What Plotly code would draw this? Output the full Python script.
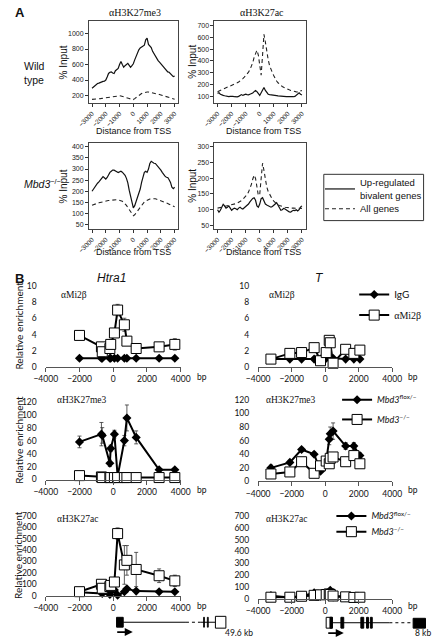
import plotly.graph_objects as go

W, H = 445, 643


def fx(x):
    return x / W


def fy(y):
    return 1 - y / H


SANS = "Liberation Sans"
SERIF = "Liberation Serif"
XL = "Lato"

# ---------------- Panel A: average profiles around the TSS ----------------
tss_bp = [-3000, -2900, -2800, -2700, -2600, -2500, -2400, -2300, -2200, -2100,
          -2000, -1900, -1800, -1700, -1600, -1500, -1400, -1300, -1200, -1100,
          -1000, -900, -800, -700, -600, -500, -400, -300, -200, -100,
          0, 100, 200, 300, 400, 500, 600, 700, 800, 900,
          1000, 1100, 1200, 1300, 1400, 1500, 1600, 1700, 1800, 1900,
          2000, 2100, 2200, 2300, 2400, 2500, 2600, 2700, 2800, 2900, 3000]

wt_me3_bivalent = [295, 310, 330, 345, 355, 360, 370, 378, 382, 385,
                   400, 440, 485, 500, 505, 490, 485, 520, 535, 550,
                   600, 640, 600, 565, 585, 600, 615, 590, 565, 585,
                   610, 660, 700, 760, 790, 815, 825, 830, 850, 920,
                   940, 860, 835, 820, 770, 735, 700, 675, 650, 630,
                   610, 590, 560, 545, 520, 505, 500, 480, 460, 445, 450]
wt_me3_all = [150, 150, 152, 154, 156, 158, 160, 163, 166, 168,
              172, 175, 178, 181, 184, 187, 190, 192, 194, 196,
              197, 194, 190, 185, 180, 174, 168, 162, 156, 150,
              148, 160, 175, 190, 203, 215, 225, 233, 240, 244,
              246, 245, 242, 238, 234, 230, 226, 222, 218, 213,
              208, 203, 198, 193, 188, 182, 176, 170, 164, 158, 152]
wt_ac_bivalent = [125, 130, 118, 110, 108, 105, 102, 100, 98, 100,
                  103, 100, 97, 95, 96, 100, 110, 115, 108, 112,
                  118, 115, 113, 118, 122, 128, 140, 150, 140, 118,
                  108, 130, 160, 175, 150, 128, 118, 115, 112, 110,
                  110, 108, 106, 104, 102, 101, 100, 100, 99, 98,
                  98, 97, 96, 96, 97, 100, 110, 122, 130, 118, 112]
wt_ac_all = [140, 145, 150, 155, 160, 165, 170, 175, 180, 185,
             190, 196, 202, 208, 215, 222, 230, 240, 250, 262,
             275, 290, 305, 325, 350, 385, 430, 470, 490, 450,
             360, 280, 450, 625, 560, 470, 410, 360, 325, 300,
             275, 250, 230, 215, 202, 192, 184, 177, 170, 165,
             160, 155, 150, 146, 143, 140, 138, 137, 135, 145, 150]
ko_me3_bivalent = [200, 210, 220, 228, 236, 242, 248, 258, 266, 262,
                   255, 262, 275, 285, 290, 295, 295, 293, 288, 284,
                   286, 290, 286, 280, 272, 258, 238, 205, 175, 145,
                   125, 135, 152, 168, 190, 210, 240, 265, 285, 290,
                   285, 300, 325, 335, 330, 326, 325, 318, 310, 302,
                   295, 285, 275, 268, 263, 262, 252, 240, 218, 212, 218]
ko_me3_all = [137, 140, 142, 144, 146, 148, 150, 151, 153, 155,
              156, 157, 158, 159, 160, 161, 162, 162, 162, 161,
              160, 158, 155, 150, 144, 136, 127, 117, 106, 96,
              90, 94, 102, 112, 122, 131, 139, 146, 152, 156,
              160, 163, 165, 166, 167, 167, 166, 164, 162, 160,
              158, 156, 153, 150, 147, 145, 142, 139, 136, 133, 130]
ko_ac_bivalent = [100, 92, 98, 110, 117, 112, 105, 108, 112, 105,
                  98, 102, 105, 103, 100, 105, 108, 104, 102, 106,
                  110, 112, 118, 125, 132, 136, 138, 130, 112, 108,
                  118, 135, 138, 125, 118, 115, 112, 110, 108, 110,
                  113, 118, 122, 115, 105, 98, 100, 104, 102, 100,
                  96, 93, 92, 96, 98, 97, 100, 96, 100, 108, 112]
ko_ac_all = [105, 106, 107, 108, 108, 109, 110, 111, 112, 113,
             114, 115, 117, 119, 121, 123, 126, 129, 133, 137,
             142, 148, 156, 166, 180, 197, 210, 200, 170, 145,
             150, 200, 248, 225, 195, 172, 158, 148, 140, 133,
             127, 122, 118, 115, 113, 111, 110, 109, 108, 107,
             107, 106, 106, 105, 105, 105, 104, 104, 104, 104, 104]

tss_ticks = [-3000, -2000, -1000, 0, 1000, 2000, 3000]

# ---------------- Panel B: ChIP-qPCR ----------------
htra1_bp = [-2000, -700, -650, -200, -150, 70, 260, 660, 810, 1360, 2720, 3650]
htra1_igg = [1.1, 1.1, 1.1, 1.1, 1.1, 1.1, 1.1, 1.1, 1.1, 1.1, 1.1, 1.1]
htra1_mi2b = [3.9, 2.5, 1.9, 2.3, 2.8, 4.2, 7.0, 5.2, 3.2, 2.3, 2.5, 2.8]
htra1_mi2b_err = [0.5, 0.5, 0.3, 0.4, 0.3, 0.3, 0.7, 0.8, 0.5, 0.2, 0.2, 0.7]
htra1_me3_flox = [58, 70, 68, 25, 48, 70, 5, 60, 95, 65, 15, 15]
htra1_me3_flox_err = [9, 18, 12, 5, 5, 6, 2, 8, 20, 10, 2, 2]
htra1_me3_ko = [6, 4, 3, 3, 3, 3, 3, 3, 3, 3, 3, 3]
htra1_ac_flox = [30, 25, 20, 10, 40, 50, 5, 35, 60, 40, 35, 35]
htra1_ac_ko = [35, 100, 65, 80, 90, 120, 545, 270, 310, 230, 175, 130]
htra1_ac_ko_err = [5, 10, 15, 10, 15, 20, 50, 170, 130, 150, 60, 50]

t_bp = [-3240, -2110, -1410, -660, -280, 60, 240, 300, 470, 1220, 1710, 2070]
t_igg = [1.0, 1.0, 1.0, 1.0, 1.0, 1.1, 1.3, 1.2, 1.1, 1.0, 1.0, 1.0]
t_mi2b = [1.0, 1.7, 1.8, 2.4, 0.8, 1.8, 3.3, 3.0, 0.5, 2.2, 1.7, 2.1]
t_mi2b_err = [0.1, 0.1, 0.1, 0.1, 0.1, 0.2, 0.4, 0.5, 0.1, 0.1, 0.1, 0.1]
t_me3_flox = [20, 28, 47, 40, 15, 30, 62, 70, 74, 52, 52, 38]
t_me3_flox_err = [4, 3, 2, 3, 2, 5, 8, 10, 12, 5, 5, 4]
t_me3_ko = [11, 14, 29, 12, 23, 30, 26, 34, 36, 29, 38, 26]
t_ac_flox = [25, 10, 20, 50, 20, 40, 55, 70, 15, 15, 10, 10]
t_ac_ko = [12, 12, 20, 28, 32, 35, 40, 35, 22, 15, 10, 12]

bp_ticks = [-4000, -2000, 0, 2000, 4000]

fig = go.Figure()


def ax_name(i, kind):
    return f"{kind}axis" if i == 1 else f"{kind}axis{i}"


def ref(i, kind):
    return kind if i == 1 else f"{kind}{i}"


a_x = dict(range=[-3220, 3270], tickvals=tss_ticks, tickangle=-45,
           tickfont=dict(size=6.5, family=SANS, color="#222"), ticks="outside",
           ticklen=3, tickwidth=0.8, tickcolor="#333", showline=True, mirror=True,
           linecolor="#444", linewidth=1, showgrid=False, zeroline=False)
a_y = dict(tickfont=dict(size=7, family=SANS, color="#222"), ticks="outside",
           ticklen=3, tickwidth=0.8, tickcolor="#333", showline=True, mirror=True,
           linecolor="#444", linewidth=1, showgrid=False, zeroline=False)

panelA = [
    (1, (81, 175), (16, 100), [98, 1165], [200, 400, 600, 800, 1000], wt_me3_bivalent, wt_me3_all),
    (2, (213, 309), (16, 100), [40, 740], [100, 200, 300, 400, 500, 600, 700], wt_ac_bivalent, wt_ac_all),
    (3, (81, 175), (140, 228), [28, 418], [50, 100, 150, 200, 250, 300, 350, 400], ko_me3_bivalent, ko_me3_all),
    (4, (213, 309), (140, 228), [37, 313], [50, 100, 150, 200, 250, 300], ko_ac_bivalent, ko_ac_all),
]

layout_axes = {}
for i, xp, yp, yr, yt, solid, dashed in panelA:
    layout_axes[ax_name(i, "x")] = dict(a_x, domain=[fx(xp[0]), fx(xp[1])], anchor=ref(i, "y"))
    layout_axes[ax_name(i, "y")] = dict(a_y, domain=[fy(yp[1]), fy(yp[0])], anchor=ref(i, "x"),
                                         range=yr, tickvals=yt)
    fig.add_trace(go.Scatter(x=tss_bp, y=solid, mode="lines", line=dict(color="#111", width=1.2),
                             xaxis=ref(i, "x"), yaxis=ref(i, "y"),
                             name="Up-regulated<br>bivalent genes", legend="legend7",
                             showlegend=(i == 1), hoverinfo="skip"))
    fig.add_trace(go.Scatter(x=tss_bp, y=dashed, mode="lines",
                             line=dict(color="#222", width=1.1, dash="4px,3px"),
                             xaxis=ref(i, "x"), yaxis=ref(i, "y"),
                             name="All genes", legend="legend8",
                             showlegend=(i == 1), hoverinfo="skip"))

b_x = dict(range=[-4000, 4000], tickvals=bp_ticks, ticks="outside", ticklen=4,
           tickcolor="#555", tickwidth=1, showline=True, linecolor="#555", linewidth=1,
           showgrid=False, zeroline=False, tickfont=dict(size=8.5, family=XL, color="#111"))
b_y = dict(showline=False, ticks="", showgrid=False, zeroline=False,
           tickfont=dict(size=8.5, family=XL, color="#111"), ticklabelstandoff=8)

diamond_style = dict(line=dict(color="black", width=2),
                     marker=dict(symbol="diamond", size=7, color="black"))
square_style = dict(line=dict(color="black", width=2),
                    marker=dict(symbol="square", size=10, color="white",
                                line=dict(color="black", width=1)))


def err(arr):
    return dict(type="data", array=arr, color="#333", thickness=0.8, width=2)


panelB = [
    (5, (35.5, 177.5), (285, 368), [0, 10], [0, 2, 4, 6, 8, 10], htra1_bp,
     htra1_igg, htra1_mi2b, None, htra1_mi2b_err, None, None),
    (6, (35.5, 177.5), (403, 482), [0, 120], [0, 20, 40, 60, 80, 100, 120], htra1_bp,
     htra1_me3_flox, htra1_me3_ko, htra1_me3_flox_err, None, None, None),
    (7, (35.5, 177.5), (519, 600), [0, 700], [0, 100, 200, 300, 400, 500, 600, 700], htra1_bp,
     htra1_ac_flox, htra1_ac_ko, None, htra1_ac_ko_err, None, None),
    (8, (259, 400), (285, 368), [0, 10], [0, 2, 4, 6, 8, 10], t_bp,
     t_igg, t_mi2b, None, t_mi2b_err,
     ("IgG", "αMi2β"), ("legend", "legend2")),
    (9, (259, 400), (401, 484), [0, 120], [0, 20, 40, 60, 80, 100, 120], t_bp,
     t_me3_flox, t_me3_ko, t_me3_flox_err, None,
     ("<i>Mbd3</i><sup>flox/−</sup>", "<i>Mbd3</i><sup>−/−</sup>"), ("legend3", "legend4")),
    (10, (259, 400), (519, 603), [0, 700], [0, 100, 200, 300, 400, 500, 600, 700], t_bp,
     t_ac_flox, t_ac_ko, None, None,
     ("<i>Mbd3</i><sup>flox/−</sup>", "<i>Mbd3</i><sup>−/−</sup>"), ("legend5", "legend6")),
]

for i, xp, yp, yr, yt, pos, filled, opened, ferr, oerr, names, legs in panelB:
    layout_axes[ax_name(i, "x")] = dict(b_x, domain=[fx(xp[0]), fx(xp[1])], anchor=ref(i, "y"))
    layout_axes[ax_name(i, "y")] = dict(b_y, domain=[fy(yp[1]), fy(yp[0])], anchor=ref(i, "x"),
                                         range=yr, tickvals=yt)
    fig.add_trace(go.Scatter(x=pos, y=filled, mode="lines+markers", **diamond_style,
                             error_y=err(ferr) if ferr else None, cliponaxis=False,
                             xaxis=ref(i, "x"), yaxis=ref(i, "y"),
                             name=names[0] if names else "", legend=legs[0] if legs else "legend",
                             showlegend=bool(names), hoverinfo="skip"))
    fig.add_trace(go.Scatter(x=pos, y=opened, mode="lines+markers", **square_style,
                             error_y=err(oerr) if oerr else None, cliponaxis=False,
                             xaxis=ref(i, "x"), yaxis=ref(i, "y"),
                             name=names[1] if names else "", legend=legs[1] if legs else "legend",
                             showlegend=bool(names), hoverinfo="skip"))


def leg(textx, y, size=10, family=XL):
    return dict(x=fx(textx - 40), y=fy(y), xanchor="left", yanchor="middle",
                bgcolor="rgba(0,0,0,0)", borderwidth=0, itemwidth=30,
                font=dict(size=size, family=family, color="#111"))


ann = []


def text(x, y, s, size=10, family=SANS, xanchor="center", angle=0, **kw):
    ann.append(dict(x=fx(x), y=fy(y), xref="paper", yref="paper", text=s, showarrow=False,
                    xanchor=xanchor, yanchor="middle", textangle=angle,
                    font=dict(size=size, family=family, color="#111"), **kw))


text(8, 8, "<b>A</b>", size=13)
text(8, 278, "<b>B</b>", size=13)
text(129, 8, "αH3K27me3", size=10, family=SERIF)
text(263, 8, "αH3K27ac", size=10, family=SERIF)
text(10, 69, "Wild<br>type", size=10.5, xanchor="left", align="left")
text(10, 181, "<i>Mbd3</i><sup>−/−</sup>", size=10.5, xanchor="left")
for (x, y) in [(54, 58), (189, 58), (54, 184), (189, 184)]:
    text(x, y, "% Input", size=10, angle=-90)
for (x, y) in [(128, 128), (265, 128), (128, 251), (265, 251)]:
    text(x, y, "Distance from TSS", size=9)

text(105, 277, "<i>Htra1</i>", size=12)
text(324, 277, "<i>T</i>", size=12)
text(49, 295, "αMi2β", size=9.5, family=SERIF, xanchor="left")
text(268, 295, "αMi2β", size=9.5, family=SERIF, xanchor="left")
text(45, 401, "αH3K27me3", size=9.5, family=SERIF, xanchor="left")
text(265, 401, "αH3K27me3", size=9.5, family=SERIF, xanchor="left")
text(45, 522, "αH3K27ac", size=9.5, family=SERIF, xanchor="left")
text(265, 522, "αH3K27ac", size=9.5, family=SERIF, xanchor="left")
for y in [326, 442, 559]:
    text(7, y, "Relative enrichment", size=10, family=XL, angle=-90)
for (x, y) in [(192, 378), (192, 493), (192, 611), (414, 378), (414, 493), (414, 611)]:
    text(x, y, "bp", size=8.5, family=XL, xanchor="left")
text(222, 638, "49.6 kb", size=8.5, family=XL, xanchor="left")
text(443, 638, "8 kb", size=8.5, family=XL, xanchor="right")

# promoter arrows
for (x0, x1, y) in [(110, 127, 637), (332, 349, 638)]:
    ann.append(dict(x=fx(x1), y=fy(y), xref="paper", yref="paper",
                    ax=-(x1 - x0), ay=0, text="", showarrow=True,
                    arrowhead=2, arrowsize=1, arrowwidth=1.6, arrowcolor="black"))

shapes = []


def rect(x0, x1, y0, y1, fill="black", lw=1):
    shapes.append(dict(type="rect", xref="paper", yref="paper", x0=fx(x0), x1=fx(x1),
                       y0=fy(y1), y1=fy(y0), fillcolor=fill, line=dict(color="black", width=lw)))


def hline(x0, x1, y, dash="solid", lw=1):
    shapes.append(dict(type="line", xref="paper", yref="paper", x0=fx(x0), x1=fx(x1),
                       y0=fy(y), y1=fy(y), line=dict(color="black", width=lw, dash=dash)))


# Htra1 gene model
hline(117, 183, 627)
hline(183, 198, 627, dash="dot")
hline(198, 214, 627)
rect(110, 117, 622, 632)
rect(201.5, 202.5, 622, 632, lw=0.8)
rect(205.5, 206.5, 622, 632, lw=0.8)
rect(214, 225, 621, 633, fill="white")

# T gene model
hline(337, 397, 627.5)
hline(397, 422, 627.5, dash="dot")
rect(330.5, 337, 622, 633, fill="white")
rect(334.5, 337, 622, 633)
rect(346, 349, 622, 633)
rect(367, 370, 622, 633)
rect(373, 375, 622, 633)
rect(377, 379, 622, 633)
rect(422, 435, 623, 633)

# Panel A legend box
shapes.append(dict(type="rect", xref="paper", yref="paper", x0=fx(328), x1=fx(433),
                   y0=fy(219), y1=fy(172), line=dict(color="#333", width=1),
                   fillcolor="rgba(0,0,0,0)"))

fig.update_layout(
    width=W, height=H, autosize=False,
    margin=dict(l=0, r=0, t=0, b=0),
    paper_bgcolor="white", plot_bgcolor="white",
    font=dict(family=SANS, color="#111"),
    annotations=ann, shapes=shapes,
    legend=leg(400, 294, family=XL),
    legend2=leg(400, 315, family=SERIF),
    legend3=leg(382, 401, size=9, family=XL),
    legend4=leg(382, 421, size=9, family=XL),
    legend5=leg(376, 519, size=9, family=XL),
    legend6=leg(376, 535, size=9, family=XL),
    legend7=leg(364, 187, size=9.5, family=SANS),
    legend8=leg(364, 207, size=9.5, family=SANS),
    **layout_axes,
)

fig.write_html("out.html",
               config={"displayModeBar": False},
               post_script="document.body.style.margin='0';document.body.style.padding='0';")
